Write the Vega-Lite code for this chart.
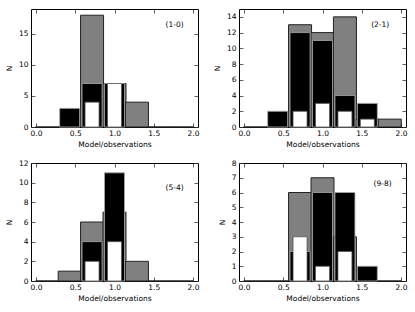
{
  "$schema": "https://vega.github.io/schema/vega-lite/v6.json",
  "padding": {"left": 4, "top": 8, "right": 5, "bottom": 5},
  "background": "white",
  "config": {
    "font": "DejaVu Sans",
    "view": {"stroke": "black", "strokeWidth": 1},
    "axis": {
      "labelFont": "DejaVu Sans", "titleFont": "DejaVu Sans",
      "labelFontSize": 7.5, "titleFontSize": 7.5, "titleFontWeight": "normal",
      "labelColor": "black", "titleColor": "black",
      "domain": false, "grid": false,
      "tickColor": "#333", "tickWidth": 0.8, "tickSize": -4,
      "labelOverlap": false, "labelFlush": false, "labelBound": false
    },
    "axisBottom": {"labelPadding": 6, "titlePadding": 4},
    "axisLeft": {"labelPadding": 7, "titlePadding": 5}
  },
  "datasets": {
    "bars": [
      {"panel": "1-0", "series": "gray", "x": 0.143, "n": 0},
      {"panel": "1-0", "series": "gray", "x": 0.429, "n": 0},
      {"panel": "1-0", "series": "gray", "x": 0.714, "n": 18},
      {"panel": "1-0", "series": "gray", "x": 1.0, "n": 7},
      {"panel": "1-0", "series": "gray", "x": 1.286, "n": 4},
      {"panel": "1-0", "series": "gray", "x": 1.571, "n": 0},
      {"panel": "1-0", "series": "gray", "x": 1.857, "n": 0},
      {"panel": "1-0", "series": "black", "x": 0.429, "n": 3},
      {"panel": "1-0", "series": "black", "x": 0.714, "n": 7},
      {"panel": "1-0", "series": "black", "x": 1.0, "n": 7},
      {"panel": "1-0", "series": "white", "x": 0.714, "n": 4},
      {"panel": "1-0", "series": "white", "x": 1.0, "n": 7},

      {"panel": "2-1", "series": "gray", "x": 0.143, "n": 0},
      {"panel": "2-1", "series": "gray", "x": 0.429, "n": 0},
      {"panel": "2-1", "series": "gray", "x": 0.714, "n": 13},
      {"panel": "2-1", "series": "gray", "x": 1.0, "n": 12},
      {"panel": "2-1", "series": "gray", "x": 1.286, "n": 14},
      {"panel": "2-1", "series": "gray", "x": 1.571, "n": 1},
      {"panel": "2-1", "series": "gray", "x": 1.857, "n": 1},
      {"panel": "2-1", "series": "black", "x": 0.429, "n": 2},
      {"panel": "2-1", "series": "black", "x": 0.714, "n": 12},
      {"panel": "2-1", "series": "black", "x": 1.0, "n": 11},
      {"panel": "2-1", "series": "black", "x": 1.286, "n": 4},
      {"panel": "2-1", "series": "black", "x": 1.571, "n": 3},
      {"panel": "2-1", "series": "white", "x": 0.714, "n": 2},
      {"panel": "2-1", "series": "white", "x": 1.0, "n": 3},
      {"panel": "2-1", "series": "white", "x": 1.286, "n": 2},
      {"panel": "2-1", "series": "white", "x": 1.571, "n": 1},

      {"panel": "5-4", "series": "gray", "x": 0.143, "n": 0},
      {"panel": "5-4", "series": "gray", "x": 0.429, "n": 1},
      {"panel": "5-4", "series": "gray", "x": 0.714, "n": 6},
      {"panel": "5-4", "series": "gray", "x": 1.0, "n": 7},
      {"panel": "5-4", "series": "gray", "x": 1.286, "n": 2},
      {"panel": "5-4", "series": "gray", "x": 1.571, "n": 0},
      {"panel": "5-4", "series": "gray", "x": 1.857, "n": 0},
      {"panel": "5-4", "series": "black", "x": 0.714, "n": 4},
      {"panel": "5-4", "series": "black", "x": 1.0, "n": 11},
      {"panel": "5-4", "series": "white", "x": 0.714, "n": 2},
      {"panel": "5-4", "series": "white", "x": 1.0, "n": 4},

      {"panel": "9-8", "series": "gray", "x": 0.143, "n": 0},
      {"panel": "9-8", "series": "gray", "x": 0.429, "n": 0},
      {"panel": "9-8", "series": "gray", "x": 0.714, "n": 6},
      {"panel": "9-8", "series": "gray", "x": 1.0, "n": 7},
      {"panel": "9-8", "series": "gray", "x": 1.286, "n": 3},
      {"panel": "9-8", "series": "gray", "x": 1.571, "n": 0},
      {"panel": "9-8", "series": "gray", "x": 1.857, "n": 0},
      {"panel": "9-8", "series": "black", "x": 0.714, "n": 2},
      {"panel": "9-8", "series": "black", "x": 1.0, "n": 6},
      {"panel": "9-8", "series": "black", "x": 1.286, "n": 6},
      {"panel": "9-8", "series": "black", "x": 1.571, "n": 1},
      {"panel": "9-8", "series": "white", "x": 0.714, "n": 3},
      {"panel": "9-8", "series": "white", "x": 1.0, "n": 1},
      {"panel": "9-8", "series": "white", "x": 1.286, "n": 2}
    ],
    "panels": [
      {"panel": "1-0", "label": "(1-0)"},
      {"panel": "2-1", "label": "(2-1)"},
      {"panel": "5-4", "label": "(5-4)"},
      {"panel": "9-8", "label": "(9-8)"}
    ]
  },
  "columns": 2,
  "spacing": {"row": 9, "column": 12},
  "concat": [
    {
      "width": 167, "height": 118,
      "resolve": {"axis": {"x": "independent", "y": "independent"}},
      "layer": [
        {
          "data": {"name": "bars"},
          "transform": [{"filter": "datum.panel === '1-0' && datum.series === 'gray'"}],
          "mark": {"type": "bar", "size": 23, "fill": "#808080", "stroke": "#222", "strokeWidth": 1},
          "encoding": {
            "x": {"field": "x", "type": "quantitative", "scale": {"domain": [0, 2], "nice": false},
                  "axis": {"orient": "bottom", "values": [0, 0.5, 1, 1.5, 2], "format": ".1f", "title": "Model/observations"}},
            "y": {"field": "n", "type": "quantitative", "stack": null, "scale": {"domain": [0, 19], "nice": false},
                  "axis": {"orient": "left", "values": [0, 5, 10, 15], "title": "N"}}
          }
        },
        {
          "data": {"name": "bars"},
          "transform": [{"filter": "datum.panel === '1-0' && datum.series === 'black'"}],
          "mark": {"type": "bar", "size": 20, "fill": "black", "stroke": "#aaa", "strokeWidth": 0.8},
          "encoding": {
            "x": {"field": "x", "type": "quantitative", "axis": {"orient": "top", "values": [0, 0.5, 1, 1.5, 2], "labels": false, "title": null}},
            "y": {"field": "n", "type": "quantitative", "stack": null, "axis": {"orient": "right", "values": [0, 5, 10, 15], "labels": false, "title": null}}
          }
        },
        {
          "data": {"name": "bars"},
          "transform": [{"filter": "datum.panel === '1-0' && datum.series === 'white'"}],
          "mark": {"type": "bar", "size": 14, "fill": "white", "stroke": "#555", "strokeWidth": 0.8},
          "encoding": {
            "x": {"field": "x", "type": "quantitative", "axis": null},
            "y": {"field": "n", "type": "quantitative", "stack": null, "axis": null}
          }
        },
        {
          "data": {"name": "panels"},
          "transform": [{"filter": "datum.panel === '1-0'"}],
          "mark": {"type": "text", "align": "left", "baseline": "middle", "font": "DejaVu Sans", "fontSize": 7.5, "fill": "black"},
          "encoding": {
            "x": {"datum": 1.65, "type": "quantitative", "axis": null},
            "y": {"datum": 16.4, "type": "quantitative", "axis": null},
            "text": {"field": "label"}
          }
        }
      ]
    },
    {
      "width": 167, "height": 118,
      "resolve": {"axis": {"x": "independent", "y": "independent"}},
      "layer": [
        {
          "data": {"name": "bars"},
          "transform": [{"filter": "datum.panel === '2-1' && datum.series === 'gray'"}],
          "mark": {"type": "bar", "size": 23, "fill": "#808080", "stroke": "#222", "strokeWidth": 1},
          "encoding": {
            "x": {"field": "x", "type": "quantitative", "scale": {"domain": [0, 2], "nice": false},
                  "axis": {"orient": "bottom", "values": [0, 0.5, 1, 1.5, 2], "format": ".1f", "title": "Model/observations"}},
            "y": {"field": "n", "type": "quantitative", "stack": null, "scale": {"domain": [0, 15], "nice": false},
                  "axis": {"orient": "left", "values": [0, 2, 4, 6, 8, 10, 12, 14], "title": "N"}}
          }
        },
        {
          "data": {"name": "bars"},
          "transform": [{"filter": "datum.panel === '2-1' && datum.series === 'black'"}],
          "mark": {"type": "bar", "size": 20, "fill": "black", "stroke": "#aaa", "strokeWidth": 0.8},
          "encoding": {
            "x": {"field": "x", "type": "quantitative", "axis": {"orient": "top", "values": [0, 0.5, 1, 1.5, 2], "labels": false, "title": null}},
            "y": {"field": "n", "type": "quantitative", "stack": null, "axis": {"orient": "right", "values": [0, 2, 4, 6, 8, 10, 12, 14], "labels": false, "title": null}}
          }
        },
        {
          "data": {"name": "bars"},
          "transform": [{"filter": "datum.panel === '2-1' && datum.series === 'white'"}],
          "mark": {"type": "bar", "size": 14, "fill": "white", "stroke": "#555", "strokeWidth": 0.8},
          "encoding": {
            "x": {"field": "x", "type": "quantitative", "axis": null},
            "y": {"field": "n", "type": "quantitative", "stack": null, "axis": null}
          }
        },
        {
          "data": {"name": "panels"},
          "transform": [{"filter": "datum.panel === '2-1'"}],
          "mark": {"type": "text", "align": "left", "baseline": "middle", "font": "DejaVu Sans", "fontSize": 7.5, "fill": "black"},
          "encoding": {
            "x": {"datum": 1.62, "type": "quantitative", "axis": null},
            "y": {"datum": 13, "type": "quantitative", "axis": null},
            "text": {"field": "label"}
          }
        }
      ]
    },
    {
      "width": 167, "height": 118,
      "resolve": {"axis": {"x": "independent", "y": "independent"}},
      "layer": [
        {
          "data": {"name": "bars"},
          "transform": [{"filter": "datum.panel === '5-4' && datum.series === 'gray'"}],
          "mark": {"type": "bar", "size": 23, "fill": "#808080", "stroke": "#222", "strokeWidth": 1},
          "encoding": {
            "x": {"field": "x", "type": "quantitative", "scale": {"domain": [0, 2], "nice": false},
                  "axis": {"orient": "bottom", "values": [0, 0.5, 1, 1.5, 2], "format": ".1f", "title": "Model/observations"}},
            "y": {"field": "n", "type": "quantitative", "stack": null, "scale": {"domain": [0, 12], "nice": false},
                  "axis": {"orient": "left", "values": [0, 2, 4, 6, 8, 10, 12], "title": "N"}}
          }
        },
        {
          "data": {"name": "bars"},
          "transform": [{"filter": "datum.panel === '5-4' && datum.series === 'black'"}],
          "mark": {"type": "bar", "size": 20, "fill": "black", "stroke": "#aaa", "strokeWidth": 0.8},
          "encoding": {
            "x": {"field": "x", "type": "quantitative", "axis": {"orient": "top", "values": [0, 0.5, 1, 1.5, 2], "labels": false, "title": null}},
            "y": {"field": "n", "type": "quantitative", "stack": null, "axis": {"orient": "right", "values": [0, 2, 4, 6, 8, 10, 12], "labels": false, "title": null}}
          }
        },
        {
          "data": {"name": "bars"},
          "transform": [{"filter": "datum.panel === '5-4' && datum.series === 'white'"}],
          "mark": {"type": "bar", "size": 14, "fill": "white", "stroke": "#555", "strokeWidth": 0.8},
          "encoding": {
            "x": {"field": "x", "type": "quantitative", "axis": null},
            "y": {"field": "n", "type": "quantitative", "stack": null, "axis": null}
          }
        },
        {
          "data": {"name": "panels"},
          "transform": [{"filter": "datum.panel === '5-4'"}],
          "mark": {"type": "text", "align": "left", "baseline": "middle", "font": "DejaVu Sans", "fontSize": 7.5, "fill": "black"},
          "encoding": {
            "x": {"datum": 1.65, "type": "quantitative", "axis": null},
            "y": {"datum": 9.5, "type": "quantitative", "axis": null},
            "text": {"field": "label"}
          }
        }
      ]
    },
    {
      "width": 167, "height": 118,
      "resolve": {"axis": {"x": "independent", "y": "independent"}},
      "layer": [
        {
          "data": {"name": "bars"},
          "transform": [{"filter": "datum.panel === '9-8' && datum.series === 'gray'"}],
          "mark": {"type": "bar", "size": 23, "fill": "#808080", "stroke": "#222", "strokeWidth": 1},
          "encoding": {
            "x": {"field": "x", "type": "quantitative", "scale": {"domain": [0, 2], "nice": false},
                  "axis": {"orient": "bottom", "values": [0, 0.5, 1, 1.5, 2], "format": ".1f", "title": "Model/observations"}},
            "y": {"field": "n", "type": "quantitative", "stack": null, "scale": {"domain": [0, 8], "nice": false},
                  "axis": {"orient": "left", "values": [0, 1, 2, 3, 4, 5, 6, 7, 8], "title": "N"}}
          }
        },
        {
          "data": {"name": "bars"},
          "transform": [{"filter": "datum.panel === '9-8' && datum.series === 'black'"}],
          "mark": {"type": "bar", "size": 20, "fill": "black", "stroke": "#aaa", "strokeWidth": 0.8},
          "encoding": {
            "x": {"field": "x", "type": "quantitative", "axis": {"orient": "top", "values": [0, 0.5, 1, 1.5, 2], "labels": false, "title": null}},
            "y": {"field": "n", "type": "quantitative", "stack": null, "axis": {"orient": "right", "values": [0, 1, 2, 3, 4, 5, 6, 7, 8], "labels": false, "title": null}}
          }
        },
        {
          "data": {"name": "bars"},
          "transform": [{"filter": "datum.panel === '9-8' && datum.series === 'white'"}],
          "mark": {"type": "bar", "size": 14, "fill": "white", "stroke": "#555", "strokeWidth": 0.8},
          "encoding": {
            "x": {"field": "x", "type": "quantitative", "axis": null},
            "y": {"field": "n", "type": "quantitative", "stack": null, "axis": null}
          }
        },
        {
          "data": {"name": "panels"},
          "transform": [{"filter": "datum.panel === '9-8'"}],
          "mark": {"type": "text", "align": "left", "baseline": "middle", "font": "DejaVu Sans", "fontSize": 7.5, "fill": "black"},
          "encoding": {
            "x": {"datum": 1.65, "type": "quantitative", "axis": null},
            "y": {"datum": 6.6, "type": "quantitative", "axis": null},
            "text": {"field": "label"}
          }
        }
      ]
    }
  ]
}
